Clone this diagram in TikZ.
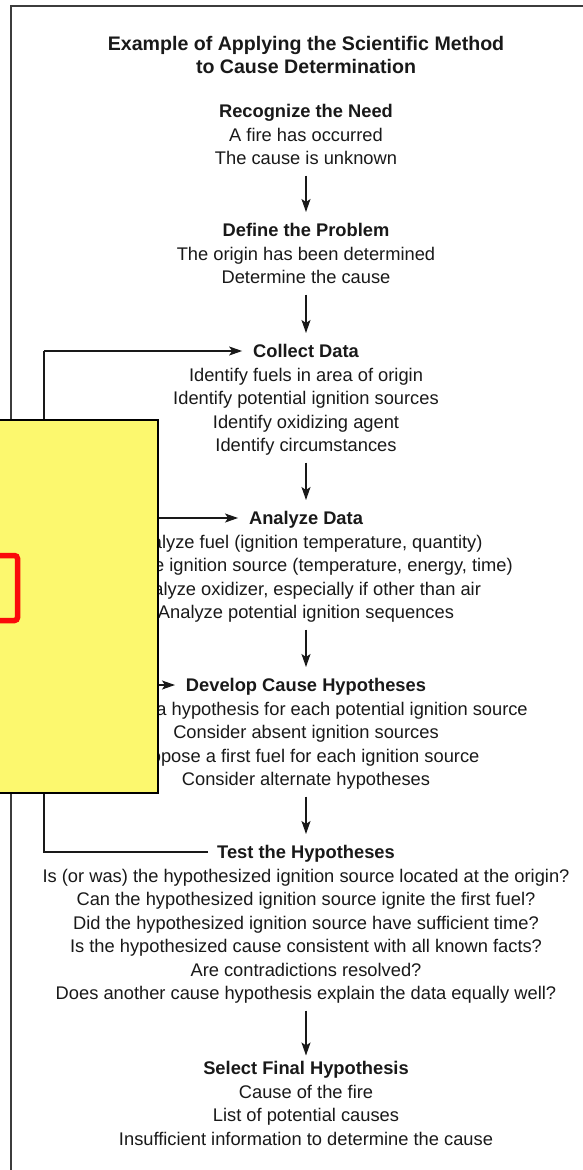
\documentclass[tikz,border=0pt]{standalone}
\usepackage{fontspec}
\setmainfont{Liberation Sans}
\usetikzlibrary{arrows.meta}
\definecolor{ink}{RGB}{25,25,25}
\definecolor{framecol}{RGB}{60,60,60}
\definecolor{hlyellow}{RGB}{252,248,110}
\definecolor{hlred}{RGB}{250,10,10}
\begin{document}
\begin{tikzpicture}[x=1pt,y=-1pt,
  txt/.style={inner sep=0pt, outer sep=0pt, text=ink},
  titlebox/.style={txt, anchor=north, align=center, font=\fontsize{19.6}{23}\selectfont\bfseries},
  head/.style={txt, anchor=base, font=\fontsize{18.3}{23.5}\selectfont\bfseries, text height=13pt, text depth=0pt},
  body/.style={txt, anchor=north, align=center, font=\fontsize{18.3}{23.5}\selectfont},
  tip/.style={-{Stealth[length=13pt,width=9pt,inset=3pt]}},
  down/.style={draw=ink, line width=1.3pt, tip, shorten <=4pt, shorten >=11.5pt},
  side/.style={draw=ink, line width=1.2pt, tip, shorten >=11pt},
  loopline/.style={draw=ink, line width=1.2pt}
]
\useasboundingbox (0,0) rectangle (583,1170);
\fill[white] (-10,-10) rectangle (600,1180);
% frame
\draw[framecol, line width=1.5pt] (600,6) -- (11,6) -- (11,1180);

% title
\node[titlebox] (title) at (306,33.9) {\strut Example of Applying the Scientific Method\\ \strut to Cause Determination};

% steps
\node[head] (h1) at (306,117.5) {Recognize the Need};
\node[body] (b1) at (306,124.55) {\strut A fire has occurred\\ \strut The cause is unknown};

\node[head] (h2) at (306,236.5) {Define the Problem};
\node[body] (b2) at (306,243.55) {\strut The origin has been determined\\ \strut Determine the cause};

\node[head] (h3) at (306,357.5) {Collect Data};
\node[body] (b3) at (306,364.55) {\strut Identify fuels in area of origin\\ \strut Identify potential ignition sources\\ \strut Identify oxidizing agent\\ \strut Identify circumstances};

\node[head] (h4) at (306,524.5) {Analyze Data};
\node[body] (b4) at (306,531.55) {\strut Analyze fuel (ignition temperature, quantity)\\ \strut Analyze ignition source (temperature, energy, time)\\ \strut Analyze oxidizer, especially if other than air\\ \strut Analyze potential ignition sequences};

\node[head] (h5) at (306,691.5) {Develop Cause Hypotheses};
\node[body] (b5) at (306,698.55) {\strut Develop a hypothesis for each potential ignition source\\ \strut Consider absent ignition sources\\ \strut Propose a first fuel for each ignition source\\ \strut Consider alternate hypotheses};

\node[head] (h6) at (306,858.5) {Test the Hypotheses};
\node[body] (b6) at (306,865.55) {\strut Is (or was) the hypothesized ignition source located at the origin?\\ \strut Can the hypothesized ignition source ignite the first fuel?\\ \strut Did the hypothesized ignition source have sufficient time?\\ \strut Is the hypothesized cause consistent with all known facts?\\ \strut Are contradictions resolved?\\ \strut Does another cause hypothesis explain the data equally well?};

\node[head] (h7) at (306,1074.5) {Select Final Hypothesis};
\node[body] (b7) at (306,1081.55) {\strut Cause of the fire\\ \strut List of potential causes\\ \strut Insufficient information to determine the cause};

% main flow
\draw[down] (b1.south) -- (h2.north);
\draw[down] (b2.south) -- (h3.north);
\draw[down] (b3.south) -- (h4.north);
\draw[down] (b4.south) -- (h5.north);
\draw[down] (b5.south) -- (h6.north);
\draw[down, shorten >=6pt] (b6.south) -- (h7.north);

% feedback loop
\coordinate (loopx) at (44,0);
\draw[loopline, shorten <=9pt] (h6.west) -| (loopx |- h3.west);
\draw[side] (loopx |- h3.west) -- (h3.west);
\draw[side] (loopx |- h4.west) -- (h4.west);
\draw[side] (loopx |- h5.west) -- (h5.west);

% highlight overlay
\fill[hlyellow] (-5,420) rectangle (158,793);
\draw[black, line width=1.3pt] (-5,420) rectangle (158,793);
\draw[hlred, line width=5.5pt, rounded corners=3pt] (-20,555.5) rectangle (17.5,620.5);
\end{tikzpicture}
\end{document}
